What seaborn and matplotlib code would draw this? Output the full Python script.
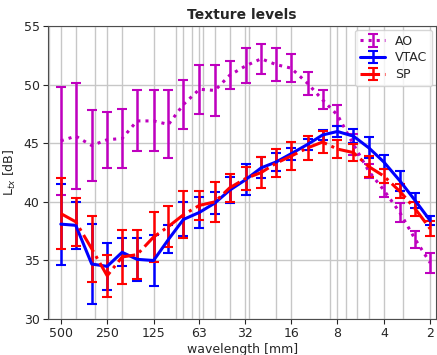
import numpy as np
import matplotlib
matplotlib.use('Agg')
import matplotlib.pyplot as plt
import matplotlib.ticker as mticker
import seaborn as sns

# third-octave wavelength bands [mm]
wavelength = [500, 400, 315, 250, 200, 160, 125, 100, 80, 63, 50, 40, 31.5,
              25, 20, 16, 12.5, 10, 8, 6.3, 5, 4, 3.15, 2.5, 2]

ao_mean = [45.2, 45.6, 44.8, 45.3, 45.4, 46.9, 46.9, 46.6, 48.3, 49.6, 49.5, 50.8, 51.6,
           52.2, 51.7, 51.4, 50.1, 48.7, 47.4, 44.9, 42.6, 41.0, 39.1, 36.8, 34.8]
ao_std = [4.6, 4.5, 3.0, 2.4, 2.5, 2.6, 2.6, 2.9, 2.1, 2.1, 2.2, 1.2, 1.5,
          1.3, 1.4, 1.2, 1.0, 0.8, 0.9, 0.9, 0.6, 0.6, 0.8, 0.7, 0.85]

vtac_mean = [38.1, 38.0, 34.7, 34.5, 35.7, 35.1, 35.0, 36.8, 38.5, 39.1, 39.9, 41.0, 41.9,
             42.9, 43.4, 44.1, 44.9, 45.7, 46.0, 45.6, 44.6, 43.4, 41.8, 40.1, 38.4]
vtac_std = [3.45, 2.0, 3.4, 2.0, 1.2, 1.85, 2.2, 1.2, 1.45, 1.3, 0.9, 1.1, 1.3,
            0.9, 0.8, 0.5, 0.5, 0.45, 0.5, 0.6, 0.9, 0.6, 0.85, 0.65, 0.4]

sp_mean = [39.0, 38.3, 36.0, 33.7, 35.3, 35.5, 37.0, 37.9, 38.9, 39.7, 40.0, 41.2, 42.0,
           42.5, 43.3, 43.9, 44.6, 45.1, 44.5, 44.2, 43.0, 42.2, 40.9, 39.4, 37.7]
sp_std = [3.0, 2.05, 2.8, 1.8, 2.3, 2.1, 2.1, 1.75, 2.0, 1.25, 1.7, 1.2, 1.0,
          1.3, 1.2, 1.2, 1.0, 0.9, 0.8, 0.7, 0.9, 0.6, 0.6, 0.6, 0.65]

tick_values = [500, 250, 125, 63, 32, 16, 8, 4, 2]
tick_labels = ['500', '250', '125', '63', '32', '16', '8', '4', '2']

sns.set_style('ticks')
plt.rcParams['font.family'] = ['DejaVu Sans']

fig = plt.figure(figsize=(4.37, 3.55), dpi=100)
ax = fig.add_axes([0.11, 0.101, 0.888, 0.826])

series = [
    ('AO', ao_mean, ao_std, 'm', ':'),
    ('VTAC', vtac_mean, vtac_std, 'b', '-'),
    ('SP', sp_mean, sp_std, 'r', '-.'),
]
for name, mean, std, col, ls in series:
    ax.errorbar(wavelength, mean, yerr=std, color=col, linestyle=ls,
                linewidth=2.2, elinewidth=1.8, capsize=3.5, capthick=1.5, label=name)

ax.set_xscale('log')
ax.set_xlim(605, 1.83)
ax.set_ylim(30, 55)
ax.set_xticks(tick_values)
ax.set_xticklabels(tick_labels)
ax.xaxis.set_minor_formatter(mticker.NullFormatter())
ax.tick_params(axis='x', which='minor', length=0)
ax.set_yticks([30, 35, 40, 45, 50, 55])
ax.grid(True, which='both', color='0.78', linewidth=1)
for s in ax.spines.values():
    s.set_color('0.3')

ax.set_title('Texture levels', fontweight='bold', fontsize=10, pad=5)
ax.set_xlabel('wavelength [mm]', fontsize=9, labelpad=2)
ax.set_ylabel(r'L$_{tx}$ [dB]', fontsize=9)
ax.tick_params(labelsize=9, length=3.5, pad=2.5)
ax.legend(loc='upper right', fontsize=9, handlelength=2.0, borderaxespad=0.3,
          labelspacing=0.3)

fig.savefig('out.png', dpi=100)
